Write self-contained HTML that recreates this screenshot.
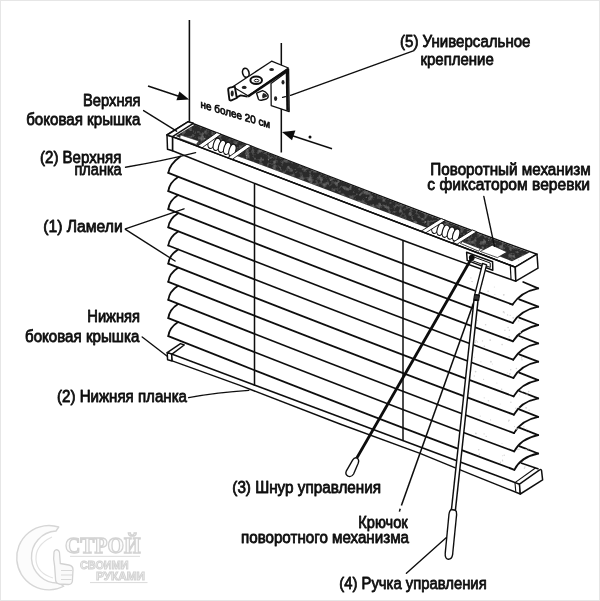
<!DOCTYPE html>
<html><head><meta charset="utf-8"><style>
html,body{margin:0;padding:0;background:#fff;}
body{width:600px;height:601px;overflow:hidden;position:relative;font-family:"Liberation Sans",sans-serif;}
svg{position:absolute;left:0;top:0;display:block}
.t{position:absolute;font-size:15.6px;line-height:18px;color:#111;white-space:nowrap;-webkit-text-stroke:0.35px #111;filter:blur(0.35px)}
.t.s{font-size:10.5px;line-height:12px;-webkit-text-stroke:0.3px #111}
.wm{position:absolute;left:14px;top:527px;width:140px;height:70px;filter:blur(0.5px)}
.wm svg{position:static}
.edge{position:absolute;left:0;top:0;width:598px;height:599px;border:1px solid #e6e6e6}
</style></head><body>
<svg width="600" height="601" viewBox="0 0 600 601">
<defs><filter id="soft" x="-2%" y="-2%" width="104%" height="104%"><feGaussianBlur stdDeviation="0.45"/></filter><filter id="wmblur" x="-5%" y="-5%" width="110%" height="110%"><feGaussianBlur stdDeviation="0.5"/></filter><filter id="noise" x="0" y="0" width="100%" height="100%"><feTurbulence type="fractalNoise" baseFrequency="0.22" numOctaves="3" seed="4" result="n"/><feColorMatrix in="n" type="matrix" values="0 0 0 0 0  0 0 0 0 0  0 0 0 0 0  2.6 0 0 0 -1.25" result="a"/><feFlood flood-color="#6e6e6e" result="c"/><feComposite in="c" in2="a" operator="in" result="sp"/><feComposite in="sp" in2="SourceGraphic" operator="in" result="sp2"/><feMerge><feMergeNode in="SourceGraphic"/><feMergeNode in="sp2"/></feMerge></filter></defs>
<rect width="600" height="601" fill="#fff"/>
<g filter="url(#soft)">
<g fill="none" stroke="#111" stroke-width="1.8" stroke-linecap="round">
<path d="M168.3,172.9 Q374.9,254.1 512.6,304.6"/>
<path d="M168.3,172.9 Q169.3,164.4 180.3,156.4"/>
<path d="M538.2,288.3 Q520.7,291.9 512.6,304.6"/>
<path d="M538.2,288.3 L523.2,282.0"/>
<path d="M168.3,191.1 Q375.0,272.4 512.8,323.0"/>
<path d="M168.3,191.1 Q169.3,182.6 178.1,176.9"/>
<path d="M538.2,306.7 Q520.7,310.3 512.8,323.0"/>
<path d="M538.2,306.7 L519.2,299.3"/>
<path d="M168.3,209.2 Q375.1,290.7 513.0,341.3"/>
<path d="M168.3,209.2 Q169.3,200.7 178.1,195.1"/>
<path d="M538.2,325.0 Q520.7,328.6 513.0,341.3"/>
<path d="M538.2,325.0 L519.2,317.6"/>
<path d="M168.3,227.3 Q375.2,308.9 513.2,359.7"/>
<path d="M168.3,227.3 Q169.3,218.8 178.1,213.2"/>
<path d="M538.2,343.4 Q520.7,347.0 513.2,359.7"/>
<path d="M538.2,343.4 L519.2,336.0"/>
<path d="M168.3,245.5 Q375.4,327.2 513.4,378.0"/>
<path d="M168.3,245.5 Q169.3,237.0 178.1,231.4"/>
<path d="M538.2,361.7 Q520.7,365.3 513.4,378.0"/>
<path d="M538.2,361.7 L519.2,354.3"/>
<path d="M168.3,263.6 Q375.5,345.5 513.6,396.4"/>
<path d="M168.3,263.6 Q169.3,255.1 178.1,249.5"/>
<path d="M538.2,380.1 Q520.7,383.7 513.6,396.4"/>
<path d="M538.2,380.1 L519.2,372.7"/>
<path d="M168.3,281.8 Q375.6,363.7 513.8,414.7"/>
<path d="M168.3,281.8 Q169.3,273.3 178.1,267.7"/>
<path d="M538.2,398.4 Q520.7,402.0 513.8,414.7"/>
<path d="M538.2,398.4 L519.2,391.0"/>
<path d="M168.3,299.9 Q375.7,382.0 514.0,433.1"/>
<path d="M168.3,299.9 Q169.3,291.4 178.1,285.8"/>
<path d="M538.2,416.8 Q520.7,420.4 514.0,433.1"/>
<path d="M538.2,416.8 L519.2,409.4"/>
<path d="M168.3,318.1 Q375.8,400.3 514.2,451.4"/>
<path d="M168.3,318.1 Q169.3,309.6 178.1,304.0"/>
<path d="M538.2,435.1 Q520.7,438.7 514.2,451.4"/>
<path d="M538.2,435.1 L519.2,427.7"/>
<path d="M168.3,336.2 Q376.0,418.6 514.4,469.8"/>
<path d="M168.3,336.2 Q169.3,327.8 178.1,322.1"/>
<path d="M538.2,453.5 Q520.7,457.1 514.4,469.8"/>
<path d="M538.2,453.5 L519.2,446.1"/>
</g>
<circle cx="488.1" cy="291.2" r="0.8" fill="#d4d4d4"/><circle cx="472.5" cy="281.6" r="0.6" fill="#d4d4d4"/><circle cx="471.6" cy="281.5" r="0.5" fill="#d4d4d4"/><circle cx="494.9" cy="294.6" r="0.5" fill="#d4d4d4"/><circle cx="494.3" cy="287.1" r="0.5" fill="#d4d4d4"/><circle cx="481.8" cy="284.3" r="0.9" fill="#d4d4d4"/><circle cx="503.8" cy="294.8" r="0.9" fill="#d4d4d4"/><circle cx="470.9" cy="277.9" r="0.6" fill="#d4d4d4"/><circle cx="476.9" cy="287.3" r="0.6" fill="#d4d4d4"/><circle cx="518.6" cy="320.9" r="0.7" fill="#d4d4d4"/><circle cx="507.6" cy="314.9" r="0.7" fill="#d4d4d4"/><circle cx="471.9" cy="304.3" r="0.6" fill="#d4d4d4"/><circle cx="510.2" cy="315.3" r="0.6" fill="#d4d4d4"/><circle cx="504.3" cy="312.8" r="0.6" fill="#d4d4d4"/><circle cx="517.3" cy="315.4" r="0.6" fill="#d4d4d4"/><circle cx="503.6" cy="311.9" r="0.9" fill="#d4d4d4"/><circle cx="513.2" cy="317.8" r="0.9" fill="#d4d4d4"/><circle cx="475.3" cy="302.2" r="0.8" fill="#d4d4d4"/><circle cx="477.4" cy="320.6" r="0.5" fill="#d4d4d4"/><circle cx="509.4" cy="330.2" r="0.7" fill="#d4d4d4"/><circle cx="522.3" cy="339.3" r="0.8" fill="#d4d4d4"/><circle cx="504.9" cy="330.2" r="0.7" fill="#d4d4d4"/><circle cx="520.1" cy="332.5" r="0.7" fill="#d4d4d4"/><circle cx="509.2" cy="336.8" r="0.8" fill="#d4d4d4"/><circle cx="508.1" cy="327.5" r="0.8" fill="#d4d4d4"/><circle cx="485.6" cy="324.7" r="0.8" fill="#d4d4d4"/><circle cx="469.4" cy="317.8" r="0.6" fill="#d4d4d4"/><circle cx="475.3" cy="342.2" r="0.8" fill="#d4d4d4"/><circle cx="476.0" cy="340.7" r="0.7" fill="#d4d4d4"/><circle cx="522.0" cy="359.8" r="0.7" fill="#d4d4d4"/><circle cx="502.1" cy="344.6" r="0.8" fill="#d4d4d4"/><circle cx="521.6" cy="357.8" r="0.7" fill="#d4d4d4"/><circle cx="490.2" cy="340.1" r="0.9" fill="#d4d4d4"/><circle cx="477.4" cy="341.9" r="0.6" fill="#d4d4d4"/><circle cx="482.5" cy="340.9" r="0.7" fill="#d4d4d4"/><circle cx="484.3" cy="346.2" r="0.7" fill="#d4d4d4"/><circle cx="490.9" cy="361.7" r="0.9" fill="#d4d4d4"/><circle cx="510.8" cy="369.8" r="0.7" fill="#d4d4d4"/><circle cx="509.9" cy="373.8" r="0.9" fill="#d4d4d4"/><circle cx="516.4" cy="368.5" r="0.8" fill="#d4d4d4"/><circle cx="492.3" cy="363.9" r="0.5" fill="#d4d4d4"/><circle cx="507.3" cy="372.8" r="0.5" fill="#d4d4d4"/><circle cx="480.9" cy="361.8" r="0.6" fill="#d4d4d4"/><circle cx="471.3" cy="359.6" r="0.6" fill="#d4d4d4"/><circle cx="474.3" cy="357.3" r="0.5" fill="#d4d4d4"/><circle cx="522.2" cy="391.5" r="0.6" fill="#d4d4d4"/><circle cx="483.6" cy="379.4" r="0.6" fill="#d4d4d4"/><circle cx="475.6" cy="371.6" r="0.9" fill="#d4d4d4"/><circle cx="496.9" cy="383.1" r="0.5" fill="#d4d4d4"/><circle cx="474.3" cy="375.9" r="0.6" fill="#d4d4d4"/><circle cx="519.4" cy="394.7" r="0.5" fill="#d4d4d4"/><circle cx="527.0" cy="394.1" r="0.6" fill="#d4d4d4"/><circle cx="501.7" cy="389.3" r="0.7" fill="#d4d4d4"/><circle cx="528.7" cy="391.6" r="0.8" fill="#d4d4d4"/><circle cx="484.2" cy="397.8" r="0.6" fill="#d4d4d4"/><circle cx="515.9" cy="408.2" r="0.8" fill="#d4d4d4"/><circle cx="488.4" cy="400.7" r="0.8" fill="#d4d4d4"/><circle cx="529.1" cy="410.2" r="0.8" fill="#d4d4d4"/><circle cx="518.7" cy="407.4" r="0.6" fill="#d4d4d4"/><circle cx="500.1" cy="403.9" r="0.5" fill="#d4d4d4"/><circle cx="469.7" cy="393.1" r="0.6" fill="#d4d4d4"/><circle cx="510.9" cy="402.3" r="0.7" fill="#d4d4d4"/><circle cx="526.1" cy="407.8" r="0.9" fill="#d4d4d4"/><circle cx="490.6" cy="419.9" r="0.6" fill="#d4d4d4"/><circle cx="480.2" cy="416.1" r="0.7" fill="#d4d4d4"/><circle cx="523.8" cy="426.7" r="0.7" fill="#d4d4d4"/><circle cx="508.5" cy="421.2" r="0.5" fill="#d4d4d4"/><circle cx="509.0" cy="420.4" r="0.8" fill="#d4d4d4"/><circle cx="514.5" cy="426.6" r="0.6" fill="#d4d4d4"/><circle cx="516.9" cy="428.9" r="0.8" fill="#d4d4d4"/><circle cx="528.2" cy="432.6" r="0.7" fill="#d4d4d4"/><circle cx="526.7" cy="428.9" r="0.6" fill="#d4d4d4"/><circle cx="475.9" cy="433.4" r="0.9" fill="#d4d4d4"/><circle cx="518.0" cy="449.4" r="0.8" fill="#d4d4d4"/><circle cx="528.8" cy="448.7" r="0.6" fill="#d4d4d4"/><circle cx="502.0" cy="443.5" r="0.5" fill="#d4d4d4"/><circle cx="528.2" cy="448.5" r="0.7" fill="#d4d4d4"/><circle cx="525.9" cy="449.7" r="0.8" fill="#d4d4d4"/><circle cx="519.2" cy="449.3" r="0.6" fill="#d4d4d4"/><circle cx="486.2" cy="436.4" r="0.7" fill="#d4d4d4"/><circle cx="484.1" cy="433.9" r="0.6" fill="#d4d4d4"/><circle cx="524.4" cy="468.2" r="0.7" fill="#d4d4d4"/><circle cx="504.2" cy="455.3" r="0.7" fill="#d4d4d4"/><circle cx="524.9" cy="467.0" r="0.7" fill="#d4d4d4"/><circle cx="500.5" cy="462.3" r="0.7" fill="#d4d4d4"/><circle cx="479.4" cy="454.4" r="0.8" fill="#d4d4d4"/><circle cx="478.7" cy="449.7" r="0.8" fill="#d4d4d4"/><circle cx="502.5" cy="460.2" r="0.7" fill="#d4d4d4"/><circle cx="502.4" cy="455.8" r="0.5" fill="#d4d4d4"/><circle cx="502.7" cy="461.0" r="0.6" fill="#d4d4d4"/>
<g fill="#fff" stroke="#111" stroke-width="1.5" stroke-linejoin="round">
<path d="M167.2,352.6 L180.5,343.6 L184.2,345.0 L172,354.2 Z"/>
<path d="M167.2,352.6 L171.6,354.0 L172.2,360.9 L167.6,359.7 Z"/>
<path d="M171.6,354.0 L519.5,484.2 L520.3,494.0 L470,473.9 L420,453.4 L340,424.0 L240,385.4 L172.2,360.9 Z"/>
<path d="M519.5,484.2 L539.6,469.8 Q541.4,468.9 541.6,470.8 L542.6,479.8 L520.3,494.0 Z"/>
<path d="M515.0,483.0 L515.8,491.8" fill="none" stroke-width="1.1"/>
<path d="M515.0,482.6 L535.4,468.0" fill="none" stroke-width="1.1"/>
<path d="M521.0,463.0 L538.6,469.0" fill="none"/>
</g>
<g stroke="#111" stroke-width="1.5" fill="none">
<path d="M254.5,183.4 L254.5,386"/>
<path d="M403.0,240.6 L403.0,440.5"/>
</g>
<g stroke="#111" stroke-width="1.5" stroke-linejoin="round">
<path d="M167,135 L188.3,121.7 Q430,216.0 537,254.2 L515.3,267.2 Z" fill="#fff"/>
<path d="M175.8,135.9 L194.6,124.7 L200.0,126.8 L260.0,149.7 L320.0,172.9 L380.0,196.3 L410.0,207.8 L450.0,223.0 L490.0,237.8 L529.5,252.4 L512.0,261.3 L450.0,236.8 L410.0,221.3 L350.0,198.5 L290.0,175.7 L250.0,160.7 L232.0,154.3 L228.0,156.8 L199.0,145.8 Z" fill="#2c2c2c" stroke="none" filter="url(#noise)"/>
<path d="M180.4,134.9 L198.8,141.0 L196.2,144.5 L179.8,138.5 Z" fill="#fff" stroke="#111" stroke-width="0.5"/>
<path d="M172.5,136.7 L515.3,267.2 L515.8,281.2 Q380,234.0 172.5,150.8 Z" fill="#fff"/>
<path d="M167,135 L172.5,136.7 L172.5,150.8 L167.5,149.2 Z" fill="#fff"/>
<path d="M167,135 L188.3,121.7 L193.3,123.3 L172.5,136.7 Z" fill="#fff"/>
<path d="M515.3,267.2 L537,254.2 L538,268.2 L515.8,281.2 Z" fill="#fff"/>
<path d="M510.3,265.4 L511.0,279.0" fill="none" stroke-width="1.2"/>
</g>
<g opacity="0.8"><circle cx="447.6" cy="228.6" r="0.4" fill="rgb(70,70,70)"/><circle cx="489.0" cy="238.5" r="0.7" fill="rgb(130,130,130)"/><circle cx="356.9" cy="194.2" r="0.6" fill="rgb(130,130,130)"/><circle cx="366.3" cy="197.4" r="0.7" fill="rgb(110,110,110)"/><circle cx="483.0" cy="247.8" r="0.9" fill="rgb(130,130,130)"/><circle cx="488.5" cy="240.2" r="0.5" fill="rgb(150,150,150)"/><circle cx="226.4" cy="143.7" r="0.7" fill="rgb(90,90,90)"/><circle cx="330.6" cy="180.3" r="0.8" fill="rgb(130,130,130)"/><circle cx="490.0" cy="240.1" r="0.5" fill="rgb(130,130,130)"/><circle cx="485.2" cy="249.0" r="0.8" fill="rgb(110,110,110)"/><circle cx="217.0" cy="146.1" r="0.9" fill="rgb(110,110,110)"/><circle cx="468.0" cy="231.8" r="0.9" fill="rgb(150,150,150)"/><circle cx="322.3" cy="179.9" r="0.6" fill="rgb(130,130,130)"/><circle cx="430.5" cy="215.7" r="0.6" fill="rgb(70,70,70)"/><circle cx="424.1" cy="218.1" r="0.7" fill="rgb(70,70,70)"/><circle cx="359.2" cy="189.2" r="0.9" fill="rgb(110,110,110)"/><circle cx="220.6" cy="139.2" r="0.9" fill="rgb(90,90,90)"/><circle cx="246.7" cy="155.6" r="0.8" fill="rgb(150,150,150)"/><circle cx="414.8" cy="222.0" r="0.5" fill="rgb(150,150,150)"/><circle cx="497.5" cy="248.4" r="0.4" fill="rgb(130,130,130)"/><circle cx="204.6" cy="138.7" r="0.8" fill="rgb(150,150,150)"/><circle cx="276.4" cy="157.1" r="0.8" fill="rgb(90,90,90)"/><circle cx="213.5" cy="144.3" r="0.5" fill="rgb(90,90,90)"/><circle cx="226.4" cy="138.0" r="0.6" fill="rgb(70,70,70)"/><circle cx="496.2" cy="248.6" r="0.7" fill="rgb(90,90,90)"/><circle cx="266.1" cy="154.4" r="0.5" fill="rgb(110,110,110)"/><circle cx="246.6" cy="157.9" r="0.7" fill="rgb(130,130,130)"/><circle cx="255.0" cy="154.7" r="0.5" fill="rgb(110,110,110)"/><circle cx="458.3" cy="239.1" r="0.4" fill="rgb(90,90,90)"/><circle cx="434.2" cy="224.1" r="0.7" fill="rgb(110,110,110)"/><circle cx="268.5" cy="159.8" r="0.7" fill="rgb(150,150,150)"/><circle cx="370.6" cy="204.4" r="0.6" fill="rgb(70,70,70)"/><circle cx="258.2" cy="153.0" r="0.8" fill="rgb(110,110,110)"/><circle cx="425.3" cy="221.9" r="0.9" fill="rgb(150,150,150)"/><circle cx="518.8" cy="260.0" r="0.4" fill="rgb(90,90,90)"/><circle cx="436.9" cy="221.2" r="0.4" fill="rgb(110,110,110)"/><circle cx="411.2" cy="213.1" r="0.7" fill="rgb(70,70,70)"/><circle cx="280.9" cy="161.8" r="0.4" fill="rgb(130,130,130)"/><circle cx="248.0" cy="149.7" r="0.5" fill="rgb(90,90,90)"/><circle cx="512.0" cy="259.2" r="0.6" fill="rgb(70,70,70)"/></g>
<path d="M201.2,146.8 L206.2,143.0 L234.4,154.8 L228.4,157.8 Z" fill="#fff" stroke="none"/><ellipse cx="211.6" cy="142.4" rx="3.3" ry="6.3" transform="rotate(17 211.6 142.4)" fill="#fff" stroke="#111" stroke-width="1.15"/><ellipse cx="216.8" cy="144.4" rx="3.3" ry="6.3" transform="rotate(17 216.8 144.4)" fill="#fff" stroke="#111" stroke-width="1.15"/><ellipse cx="222.0" cy="146.4" rx="3.3" ry="6.3" transform="rotate(17 222.0 146.4)" fill="#fff" stroke="#111" stroke-width="1.15"/><ellipse cx="227.2" cy="148.4" rx="3.3" ry="6.3" transform="rotate(17 227.2 148.4)" fill="#fff" stroke="#111" stroke-width="1.15"/><ellipse cx="232.4" cy="150.4" rx="3.3" ry="6.3" transform="rotate(17 232.4 150.4)" fill="#fff" stroke="#111" stroke-width="1.15"/><path d="M197.6,146.0 L216.8,132.6 L221.0,134.3 L202.0,147.8 Z" fill="#fff" stroke="#111" stroke-width="0.9" stroke-linejoin="round"/><path d="M227.8,157.6 L247.0,144.2 L251.2,145.9 L232.2,159.4 Z" fill="#fff" stroke="#111" stroke-width="0.9" stroke-linejoin="round"/>
<path d="M425.0,231.8 L430.0,228.0 L459.3,239.6 L453.3,242.6 Z" fill="#fff" stroke="none"/><ellipse cx="435.4" cy="227.4" rx="3.3" ry="6.3" transform="rotate(17 435.4 227.4)" fill="#fff" stroke="#111" stroke-width="1.15"/><ellipse cx="440.6" cy="229.3" rx="3.3" ry="6.3" transform="rotate(17 440.6 229.3)" fill="#fff" stroke="#111" stroke-width="1.15"/><ellipse cx="445.8" cy="231.2" rx="3.3" ry="6.3" transform="rotate(17 445.8 231.2)" fill="#fff" stroke="#111" stroke-width="1.15"/><ellipse cx="451.0" cy="233.1" rx="3.3" ry="6.3" transform="rotate(17 451.0 233.1)" fill="#fff" stroke="#111" stroke-width="1.15"/><ellipse cx="456.2" cy="235.0" rx="3.3" ry="6.3" transform="rotate(17 456.2 235.0)" fill="#fff" stroke="#111" stroke-width="1.15"/><path d="M421.4,231.0 L441.2,218.6 L445.4,220.3 L425.8,232.8 Z" fill="#fff" stroke="#111" stroke-width="0.9" stroke-linejoin="round"/><path d="M452.7,242.4 L472.5,230.0 L476.7,231.7 L457.1,244.2 Z" fill="#fff" stroke="#111" stroke-width="0.9" stroke-linejoin="round"/>
<path d="M480.2,251.4 L492.2,245.2 L507.2,252.0 L497.4,257.6 Z" fill="#fff" stroke="#111" stroke-width="0.7"/>
<path d="M460.4,243.4 L462.4,241.6 L480.4,248.6 L478.6,251.2 Z" fill="#fff" stroke="#111" stroke-width="0.8"/>
<path d="M172.5,136.7 L515.3,267.2" stroke="#111" stroke-width="1.4" fill="none"/>
<g stroke="#111" stroke-width="1.3" stroke-linejoin="round">
<path d="M466.6,252.2 L492.6,261.8 L492.8,270.2 L467.2,260.4 Z" fill="#fff" stroke-width="1.5"/>
<path d="M470.6,255.8 L490.2,263.0 L490.3,267.4 L470.8,260.0 Z" fill="#fff" stroke-width="1.0"/>
<circle cx="471.8" cy="257.6" r="2.3" fill="#111"/>
</g>
<path d="M471.6,258.2 L356.8,458.0" stroke="#111" stroke-width="2.8" fill="none" stroke-linecap="round"/>
<path d="M356.8,458.0 Q359.6,459.6 358.2,463.2 L353.6,474.0 Q351.4,477.6 348.0,476.2 Q344.8,474.4 346.4,470.8 L352.6,460.2 Q354.4,457.2 356.8,458.0 Z" fill="#fff" stroke="#111" stroke-width="1.4"/>
<path d="M474.6,300 L401.4,505.4" stroke="#111" stroke-width="1.55" fill="none"/>
<path d="M400.2,508.8 L399.4,511.6" stroke="#111" stroke-width="1.5" fill="none"/>
<path d="M482.6,263.4 L486.6,264.8 L478.8,295.2 L474.8,294.4 Z" fill="#fff" stroke="#111" stroke-width="1.4" stroke-linejoin="round"/>
<path d="M474.6,294.6 L479.4,295.6 L478.6,300.4 L473.8,299.4 Z" fill="#333" stroke="#111" stroke-width="1.2"/>
<path d="M474.0,300.0 L451.4,510.0 L455.4,510.4 L478.0,300.6 Z" fill="#fff" stroke="#111" stroke-width="1.5" stroke-linejoin="round"/>
<path d="M451.0,509.6 Q449.4,510.8 449.0,514.0 L445.2,553.6 Q445.0,558.6 448.2,559.2 Q451.8,559.4 452.6,554.6 L456.6,514.6 Q456.8,511.2 455.2,510.2 Z" fill="#fff" stroke="#111" stroke-width="1.4"/>
<g stroke="#111" stroke-width="1.55" fill="none">
<path d="M189.4,20 L189.4,121.3"/>
<path d="M281.3,43 L281.3,152.5"/>
<path d="M148,86 L181,96.9"/>
<path d="M291,135.2 L332,148.7"/>
</g>
<path d="M189.2,99.6 L179.4,91.4 L176.4,100.2 Z" fill="#111"/>
<path d="M282.0,132.0 L295.4,130.6 L292.0,140.2 Z" fill="#111"/>
<circle cx="310" cy="137" r="1.5" fill="#111"/>
<g stroke="#111" stroke-width="1.3" stroke-linejoin="round">
<ellipse cx="245.8" cy="72.8" rx="3.2" ry="4.6" fill="#fff" stroke-width="1.6" transform="rotate(-15 245.8 72.8)"/>
<path d="M271,83.6 L286.4,72.2 L288.6,69.0 L289.2,111.6 L271.2,105.6 Z" fill="#fff"/>
<path d="M287.0,70.5 L287.6,110.8" stroke-width="2.6" fill="none"/>
<path d="M256.6,93.2 L258.4,99.0 Q259.2,100.6 261.4,100.2 L266.4,99.0 Q269.2,97.4 267.6,94.4 Q265.8,91.4 262.6,90.6 Z" fill="#fff" stroke-width="1.4"/>
<path d="M263.0,93.0 Q266.8,93.6 267.2,96.6 L262.6,98.6 Q261.6,95.6 263.0,93.0 Z" fill="#222" stroke="none"/>
<path d="M232.8,86.8 L271.6,61.2 L288.4,68.0 L248.0,95.8 Z" fill="#fff"/>
<path d="M248.0,96.6 L288.2,69.4" stroke-width="2.4" fill="none"/>
<path d="M228.2,89.8 Q228.0,88.0 230.0,87.6 L234.8,86.6 L236.8,98.0 L231.4,100.4 Q229.6,100.8 229.3,99.0 Z" fill="#fff" stroke-width="1.9"/>
<ellipse cx="232.2" cy="93.6" rx="1.5" ry="3.0" fill="#222" stroke="none"/>
<path d="M236.8,97.4 L240.6,95.4 L247.6,96.6" fill="none" stroke-width="1.8"/>
<ellipse cx="271.6" cy="69.6" rx="2.4" ry="1.5" fill="#222" stroke="none"/>
<ellipse cx="244.2" cy="87.4" rx="2.4" ry="1.6" fill="#222" stroke="none"/>
<ellipse cx="256.2" cy="80.2" rx="5.8" ry="3.7" fill="#fff" stroke-width="2.0"/>
<ellipse cx="256.6" cy="80.6" rx="2.3" ry="1.3" fill="#fff" stroke-width="1.0"/>
<ellipse cx="283.0" cy="82.2" rx="1.5" ry="2.2" fill="#222" stroke="none"/>
<ellipse cx="275.6" cy="98.6" rx="1.6" ry="2.3" fill="#222" stroke="none"/>
</g>
<g stroke="#111" stroke-width="1.4" fill="none" stroke-linecap="round">
<path d="M143.6,110.6 L176.6,131.2"/>
<path d="M125.5,167.2 Q165,160.5 195.6,152.6"/>
<path d="M125.4,228.8 L184,208.8"/>
<path d="M125.4,229.4 L175,261"/>
<path d="M142.2,337.0 L167.2,356.2"/>
<path d="M188.6,397.6 Q218,392.4 248.8,390.4"/>
<path d="M414,50.6 L290.6,95.4"/>
<path d="M282.6,97.4 L285.4,96.6"/>
<path d="M483.8,196.4 L494.4,246.2"/>
<path d="M406.4,573.2 L446.4,537.6"/>
</g>
<g font-family="Liberation Sans, sans-serif" font-size="16.3" fill="#111" stroke="#111" stroke-width="0.8" stroke-linejoin="round">
<text x="83.0" y="106.2" textLength="57.5" lengthAdjust="spacingAndGlyphs">Верхняя</text>
<text x="26.2" y="125.0" textLength="114.3" lengthAdjust="spacingAndGlyphs">боковая крышка</text>
<text x="40.0" y="163.0" textLength="81.3" lengthAdjust="spacingAndGlyphs">(2) Верхняя</text>
<text x="74.5" y="175.0" textLength="47.2" lengthAdjust="spacingAndGlyphs">планка</text>
<text x="43.3" y="232.3" textLength="79.4" lengthAdjust="spacingAndGlyphs">(1) Ламели</text>
<text x="87.3" y="321.7" textLength="52.7" lengthAdjust="spacingAndGlyphs">Нижняя</text>
<text x="25.0" y="341.7" textLength="114.3" lengthAdjust="spacingAndGlyphs">боковая крышка</text>
<text x="57.0" y="402.0" textLength="130.0" lengthAdjust="spacingAndGlyphs">(2) Нижняя планка</text>
<text x="400.0" y="47.0" textLength="130.5" lengthAdjust="spacingAndGlyphs">(5) Универсальное</text>
<text x="420.5" y="65.0" textLength="73.3" lengthAdjust="spacingAndGlyphs">крепление</text>
<text x="430.3" y="174.7" textLength="160.4" lengthAdjust="spacingAndGlyphs">Поворотный механизм</text>
<text x="427.3" y="189.7" textLength="162.7" lengthAdjust="spacingAndGlyphs">с фиксатором веревки</text>
<text x="232.3" y="493.3" textLength="148.7" lengthAdjust="spacingAndGlyphs">(3) Шнур управления</text>
<text x="358.3" y="528.3" textLength="49.4" lengthAdjust="spacingAndGlyphs">Крючок</text>
<text x="241.0" y="543.3" textLength="168.0" lengthAdjust="spacingAndGlyphs">поворотного механизма</text>
<text x="339.3" y="589.3" textLength="147.4" lengthAdjust="spacingAndGlyphs">(4) Ручка управления</text>
</g>
<text x="0" y="0" transform="translate(200.6,107.6) skewY(16.5)" font-family="Liberation Sans, sans-serif" font-size="10.8" fill="#111" stroke="#111" stroke-width="0.7" textLength="69.5" lengthAdjust="spacingAndGlyphs">не более 20 см</text>
</g>
<g filter="url(#wmblur)">
<path d="M58.75,527 A32.2,32.2 0 1 0 63.75,586.25 L59,583 A26,26 0 1 1 56,531 Z" fill="#fcfcfc" stroke="#d6d6d6" stroke-width="1.4" stroke-linejoin="round"/>
<path d="M52,537 Q35,545 36,560 Q37,573 53,578" fill="none" stroke="#e2e2e2" stroke-width="1.2"/>
<path d="M54,552 q1.5,-3.5 4.5,-1.5 q1.5,1.5 1.2,5 l0.6,8 l8.5,1.5 q4.5,1 4.2,5 l-0.6,11 q-0.5,3.5 -4,3.5 l-9,-0.5 q-3.5,-0.5 -3.8,-4 l-1,-14 q-1.6,-7 -0.6,-14 z" fill="#fafafa" stroke="#d2d2d2" stroke-width="1.3" stroke-linejoin="round"/>
<path d="M61,570.5 h11 M61,575 h11 M61,579.5 h10.5" stroke="#d8d8d8" stroke-width="1" fill="none"/>
<text x="65" y="552.6" font-family="Liberation Serif, serif" font-weight="bold" font-size="23.5" fill="#fbfbfb" stroke="#d3d3d3" stroke-width="1.4" textLength="75.5" lengthAdjust="spacingAndGlyphs">СТРОЙ</text>
<path d="M70,556.3 H140" stroke="#dadada" stroke-width="1"/>
<text x="80" y="568.8" font-family="Liberation Sans, sans-serif" font-weight="bold" font-size="10.8" fill="#f4f4f4" stroke="#d2d2d2" stroke-width="0.9" textLength="48.5" lengthAdjust="spacingAndGlyphs">СВОИМИ</text>
<text x="96" y="580.2" font-family="Liberation Sans, sans-serif" font-weight="bold" font-size="10.8" fill="#f4f4f4" stroke="#d2d2d2" stroke-width="0.9" textLength="49" lengthAdjust="spacingAndGlyphs">РУКАМИ</text>
<path d="M90,582.6 H147.5" stroke="#dadada" stroke-width="1"/>
</g>
</svg>

<div class="edge"></div>
</body></html>
